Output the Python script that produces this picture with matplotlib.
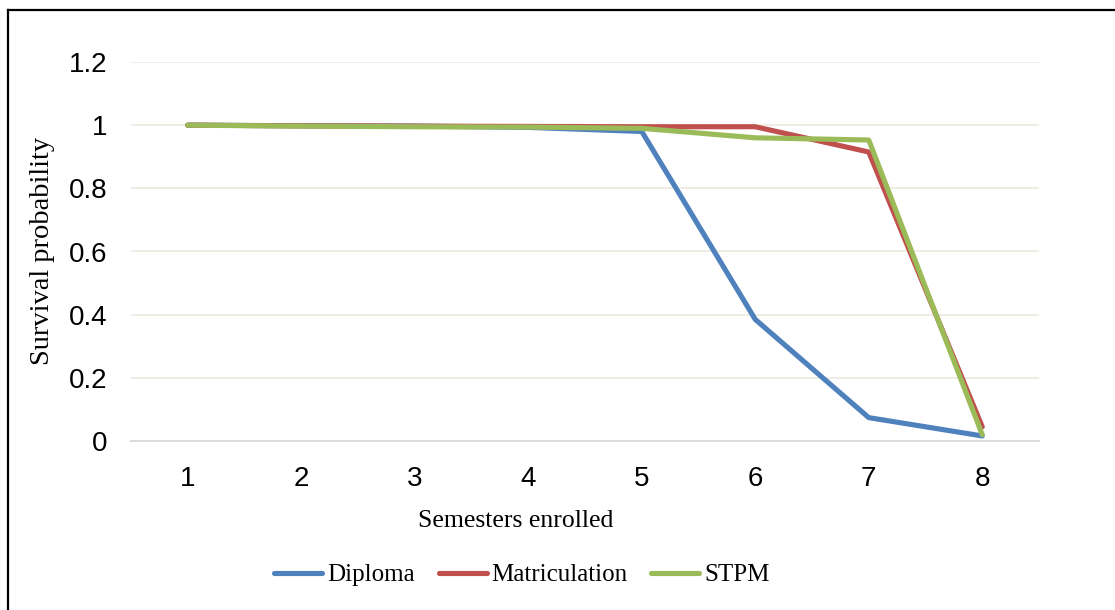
import matplotlib
matplotlib.use("Agg")
import matplotlib.pyplot as plt
from matplotlib.lines import Line2D

semesters = [1, 2, 3, 4, 5, 6, 7, 8]
tick_labels = ["1", "2", "3", "4", "5", "6", "7", "8"]
diploma = [1.0, 0.998, 0.997, 0.993, 0.98, 0.385, 0.074, 0.016]
matriculation = [1.0, 0.998, 0.997, 0.996, 0.995, 0.995, 0.915, 0.045]
stpm = [1.0, 0.997, 0.995, 0.994, 0.99, 0.96, 0.953, 0.02]
series_names = ["Diploma", "Matriculation", "STPM"]
y_ticks = [0, 0.2, 0.4, 0.6, 0.8, 1, 1.2]
y_tick_labels = ["0", "0.2", "0.4", "0.6", "0.8", "1", "1.2"]

colors = ["#4F81BD", "#C0504D", "#9BBB59"]

W, H = 1115, 610
fig = plt.figure(figsize=(W / 100, H / 100), dpi=100)
ax = fig.add_axes([131 / W, 1 - 441 / H, (1039 - 131) / W, (441 - 62) / H])

for vals, name, c in zip([diploma, matriculation, stpm], series_names, colors):
    ax.plot(semesters, vals, color=c, lw=3.7, label=name,
            solid_capstyle="round", solid_joinstyle="round", zorder=3)

ax.set_xlim(0.5, 8.5)
ax.set_ylim(0, 1.2)
ax.set_yticks(y_ticks)
ax.set_yticklabels(y_tick_labels)
ax.set_xticks(semesters)
ax.set_xticklabels(tick_labels)
ax.yaxis.grid(True, color="#EEECE1", lw=1.3, zorder=0)
ax.set_axisbelow(True)
for s in ["top", "right", "left"]:
    ax.spines[s].set_visible(False)
ax.spines["bottom"].set_color("#D9D9D9")
ax.spines["bottom"].set_linewidth(1.3)
ax.spines["bottom"].set_zorder(1)
ax.tick_params(axis="both", length=0, labelsize=20, colors="black",
               labelfontfamily="Liberation Sans")
ax.tick_params(axis="y", pad=17)
ax.tick_params(axis="x", pad=18)

ax.set_xlabel("Semesters enrolled", fontfamily="Liberation Serif", fontsize=18.5)
ax.xaxis.set_label_coords(516 / W, 1 - 521 / H, transform=fig.transFigure)
ax.xaxis.label.set_va("center")
ax.set_ylabel("Survival probability", fontfamily="Liberation Serif", fontsize=20.5)
ax.yaxis.set_label_coords(43 / W, 1 - 251 / H, transform=fig.transFigure)
ax.yaxis.label.set_va("center")

handles = [Line2D([0], [0], color=c, lw=3.7, solid_capstyle="round") for c in colors]
fig.legend(handles, series_names, loc="center", bbox_to_anchor=(522 / W, 1 - 575 / H),
           ncol=3, frameon=False, prop={"family": "Liberation Serif", "size": 18},
           handlelength=1.92, handletextpad=0.2, columnspacing=0.95)

fig.add_artist(Line2D([8 / W, 1], [1 - 10 / H, 1 - 10 / H], color="black", lw=1.6,
                      transform=fig.transFigure))
fig.add_artist(Line2D([8 / W, 8 / W], [0, 1 - 10 / H], color="black", lw=1.6,
                      transform=fig.transFigure))

fig.savefig("out.png", dpi=100)
